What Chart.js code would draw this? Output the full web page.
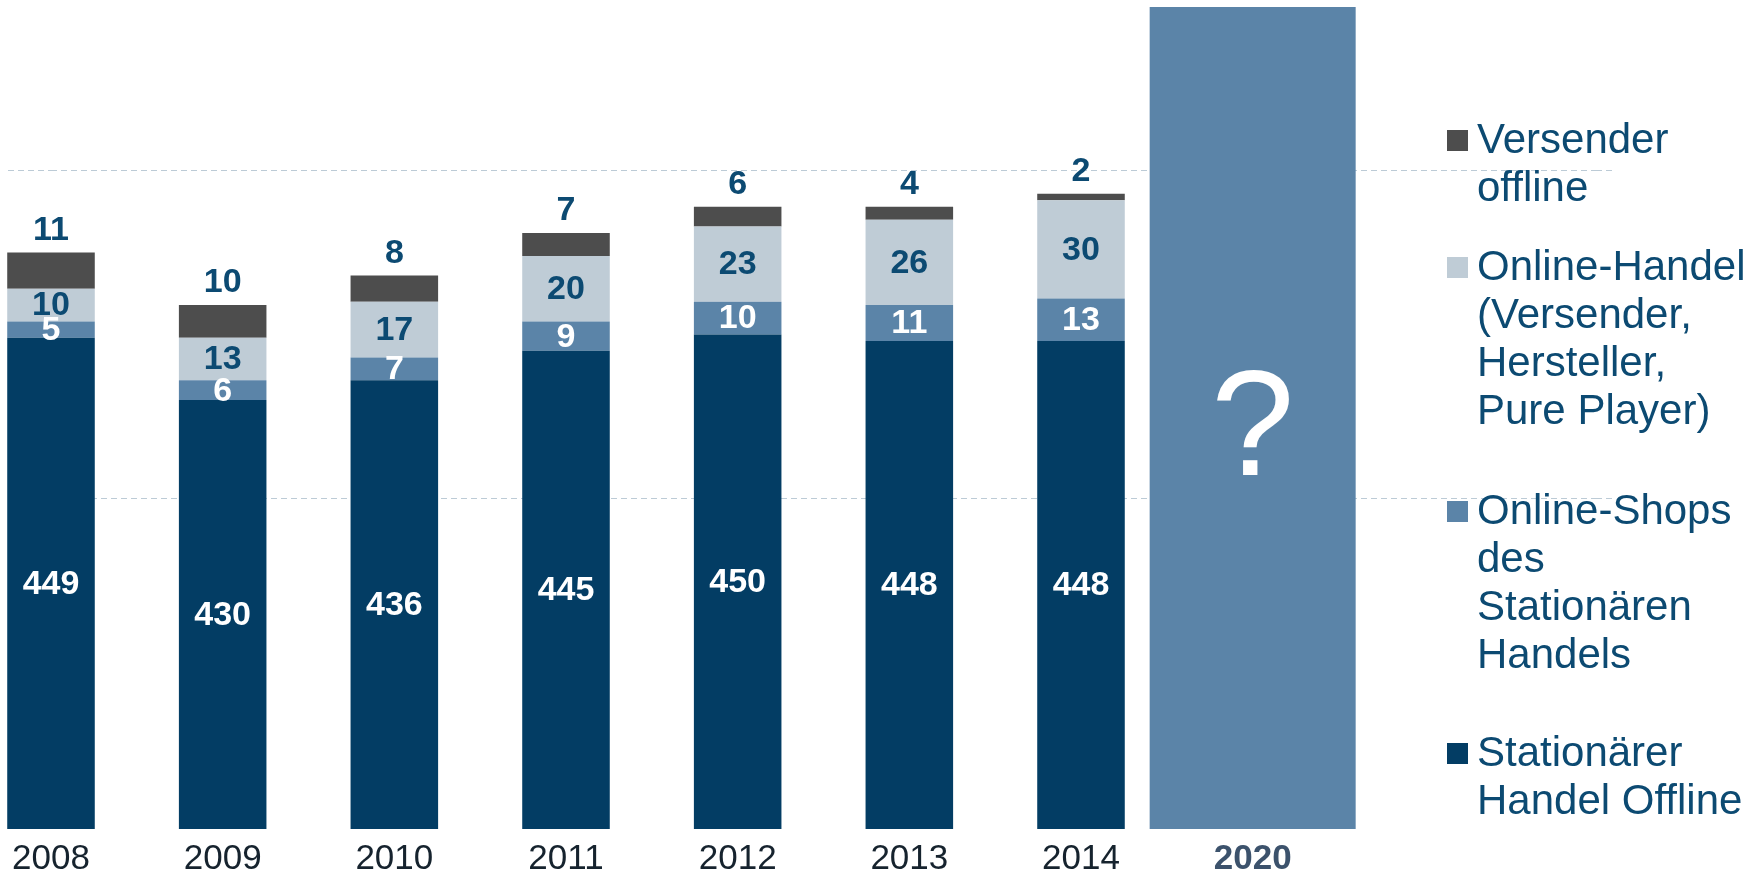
<!DOCTYPE html>
<html>
<head>
<meta charset="utf-8">
<script src="https://cdn.jsdelivr.net/npm/chart.js@4.4.1/dist/chart.umd.min.js"></script>
<style>
    body { margin: 0; background: #fff; }
    #wrap { position: relative; width: 1760px; height: 878px; }
    #legend .item {
        position: absolute;
        left: 1447px;
        padding-left: 30px;
        font: 42px/48px 'Liberation Sans', Arial, sans-serif;
        color: #0c4a72;
        white-space: pre-line;
    }
    #legend .item i { position: absolute; left: 0; top: 15px; width: 21px; height: 21px; }
    #legend .item:nth-child(1) { top: 115px; }
    #legend .item:nth-child(2) { top: 242px; }
    #legend .item:nth-child(3) { top: 486px; }
    #legend .item:nth-child(4) { top: 728px; }
</style>
</head>
<body>
<div id="wrap">
    <canvas id="chart"></canvas>
    <div id="legend"></div>
</div>
<script>
// categories (two empty slots on the right leave room for the legend)
const years = ['2008', '2009', '2010', '2011', '2012', '2013', '2014', '2020', '', ''];

// series values
const stationaer = [449, 430, 436, 445, 450, 448, 448, null];
const onlineShops = [5, 6, 7, 9, 10, 11, 13, null];
const onlineHandel = [10, 13, 17, 20, 23, 26, 30, null];
const versenderOffline = [11, 10, 8, 7, 6, 4, 2, null];
// the 2020 bar has no figures, it just fills the plot up to the top
const placeholder2020 = [null, null, null, null, null, null, null, 550];

// the value axis is cut, it starts just under 300
const yMin = 299;
const yMax = 550;
const gridValues = [400, 500];

const seriesNames = [
    'Stationärer\nHandel Offline',
    'Online-Shops\ndes\nStationären\nHandels',
    'Online-Handel\n(Versender,\nHersteller,\nPure Player)',
    'Versender\noffline'
];
const seriesColors = ['#033d64', '#5b84a8', '#bfccd6', '#4d4d4d'];
const labelColors = ['#ffffff', '#ffffff', '#0c4a72', '#0c4a72'];

const FONT = "'Liberation Sans', Arial, sans-serif";
const gridColor = '#bccbd6';

const clipSides = { left: false, right: false, top: 0, bottom: 0 };

const datasets = [stationaer, onlineShops, onlineHandel, versenderOffline].map((data, i) => ({
    label: seriesNames[i],
    data,
    backgroundColor: seriesColors[i],
    valueColor: labelColors[i],
    barPercentage: 0.51,
    categoryPercentage: 1,
    clip: clipSides
}));
datasets.push({
    label: '2020',
    data: placeholder2020,
    backgroundColor: '#5b84a8',
    valueColor: '#ffffff',
    barPercentage: 1.2,
    categoryPercentage: 1,
    clip: clipSides
});

// numbers on the bars, and the "?" in the 2020 bar
const valueLabels = {
    id: 'valueLabels',
    afterDatasetsDraw(chart) {
        const ctx = chart.ctx;
        const bottom = chart.chartArea.bottom;
        ctx.save();
        ctx.textAlign = 'center';
        chart.data.datasets.forEach((ds, di) => {
            const meta = chart.getDatasetMeta(di);
            meta.data.forEach((el, i) => {
                const v = ds.data[i];
                if (v == null) return;
                ctx.fillStyle = ds.valueColor;
                const mid = (el.y + Math.min(el.base, bottom)) / 2;
                if (di === 4) {
                    ctx.font = '150px ' + FONT;
                    ctx.textBaseline = 'middle';
                    ctx.fillText('?', el.x, mid + 16);
                } else if (di === 3) {
                    ctx.font = 'bold 34px ' + FONT;
                    ctx.textBaseline = 'alphabetic';
                    ctx.fillText(v, el.x, el.y - 13);
                } else {
                    ctx.font = 'bold 34px ' + FONT;
                    ctx.textBaseline = 'middle';
                    ctx.fillText(v, el.x, mid + 1);
                }
            });
        });
        ctx.restore();
    }
};

function setGridTicks(scale) {
    scale.ticks = gridValues.map(v => ({ value: v }));
}

const yAxisBase = {
    stacked: true,
    min: yMin,
    max: yMax,
    afterBuildTicks: setGridTicks,
    ticks: { display: false },
    border: { display: false, dash: [6, 4] }
};

new Chart(document.getElementById('chart'), {
    type: 'bar',
    data: { labels: years, datasets },
    options: {
        responsive: true,
        maintainAspectRatio: false,
        animation: false,
        layout: { padding: { left: 8, right: 145, top: 7, bottom: 0 } },
        plugins: {
            legend: { display: false },
            tooltip: { enabled: false }
        },
        scales: {
            x: {
                stacked: true,
                offset: false,
                // grid hidden, tickLength only pushes the year labels down
                grid: { display: false, drawTicks: true, tickLength: 12 },
                border: { display: false },
                ticks: {
                    autoSkip: false,
                    maxRotation: 0,
                    padding: 0,
                    color: c => c.index === 7 ? '#3c526c' : '#16232e',
                    font: c => ({ family: FONT, size: 35, lineHeight: 1.057, weight: c.index === 7 ? 'bold' : 'normal' })
                }
            },
            y: Object.assign({}, yAxisBase, {
                position: 'left',
                grid: { color: gridColor, tickColor: gridColor, tickLength: 43, tickBorderDash: [6, 4], lineWidth: 1 }
            }),
            y2: Object.assign({}, yAxisBase, {
                position: 'right',
                grid: { drawOnChartArea: false, tickColor: gridColor, tickLength: 19, tickBorderDash: [6, 4] }
            })
        }
    },
    plugins: [valueLabels]
});

// legend on the right, top item first
const legend = document.getElementById('legend');
legend.innerHTML = seriesNames.map((name, i) =>
    `<div class="item"><i style="background:${seriesColors[i]}"></i>${name}</div>`
).reverse().join('');
</script>
</body>
</html>
